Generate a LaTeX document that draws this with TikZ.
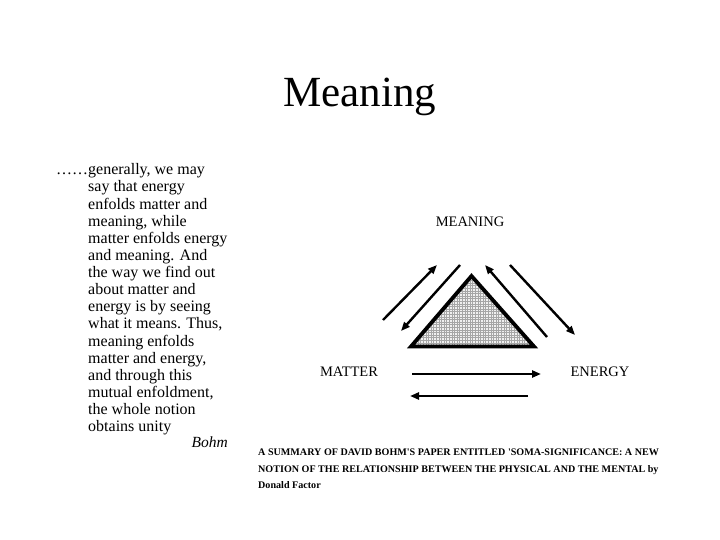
\documentclass[tikz,border=0pt]{standalone}
\usepackage{fontspec}
\setmainfont{Liberation Serif}
\usetikzlibrary{arrows.meta}
\tikzset{
  lbl/.style={font=\fontsize{14.5}{16}\selectfont, inner sep=0pt},
  arr/.style={line width=2.4pt, -{Triangle[length=9pt,width=7pt]}},
  tri/.style={line width=3.8pt, line join=miter},
  gridline/.style={gray!70, line width=0.35pt},
}
\begin{document}
\begin{tikzpicture}[x=1pt,y=-1pt]
\useasboundingbox[fill=white] (0,0) rectangle (720,540);
% title
\node[font=\fontsize{43}{48}\selectfont, inner sep=0pt] (title) at (360,97) {Meaning};
% body quote
\node[anchor=north west, inner sep=0pt, align=left,
      font=\fontsize{16}{17.13}\selectfont] (quote) at (88,163.5)
{\llap{……}generally, we may\\
say that energy\\
enfolds matter and\\
meaning, while\\
matter enfolds energy\\
and meaning. And\\
the way we find out\\
about matter and\\
energy is by seeing\\
what it means. Thus,\\
meaning enfolds\\
matter and energy,\\
and through this\\
mutual enfoldment,\\
the whole notion\\
obtains unity};
\node[anchor=base east, inner sep=0pt, font=\fontsize{15.5}{17}\selectfont\itshape] (bohm) at (228,447) {Bohm};
% labels
\node[lbl] (meaning) at (470,222) {MEANING};
\node[lbl] (matter) at (349,372) {MATTER};
\node[lbl] (energy) at (600,372) {ENERGY};
% triangle
\coordinate (A) at (471.5,276);
\coordinate (B) at (411,346.5);
\coordinate (C) at (534,346.5);
\fill[gray!12] (A) -- (B) -- (C) -- cycle;
\begin{scope}
\clip (A) -- (B) -- (C) -- cycle;
\foreach \gx in {405,407.6,...,540} {\draw[gridline] (\gx,270) -- (\gx,350);}
\foreach \gy in {270,272.6,...,350} {\draw[gridline] (405,\gy) -- (540,\gy);}
\end{scope}
\draw[tri] (A) -- (B) -- (C) -- cycle;
% arrows
\coordinate (l1s) at (383,320); \coordinate (l1e) at (437,265);
\coordinate (l2s) at (460,265); \coordinate (l2e) at (401,331);
\coordinate (r1s) at (547,337); \coordinate (r1e) at (485,265);
\coordinate (r2s) at (510,265); \coordinate (r2e) at (575,335);
\coordinate (h1s) at (412,374); \coordinate (h1e) at (541,374);
\coordinate (h2s) at (528,396); \coordinate (h2e) at (410,396);
\draw[arr] (l1s) -- (l1e);
\draw[arr] (l2s) -- (l2e);
\draw[arr] (r1s) -- (r1e);
\draw[arr] (r2s) -- (r2e);
\draw[arr] (h1s) -- (h1e);
\draw[arr] (h2s) -- (h2e);
% caption
\node[anchor=north west, inner sep=0pt, align=left,
      font=\fontsize{10.1}{16.5}\selectfont\bfseries] (caption) at (258,449)
{A SUMMARY OF DAVID BOHM\textquotesingle S PAPER ENTITLED \textquotesingle SOMA-SIGNIFICANCE: A NEW\\
NOTION OF THE RELATIONSHIP BETWEEN THE PHYSICAL AND THE MENTAL by\\
Donald Factor};
\end{tikzpicture}
\end{document}
